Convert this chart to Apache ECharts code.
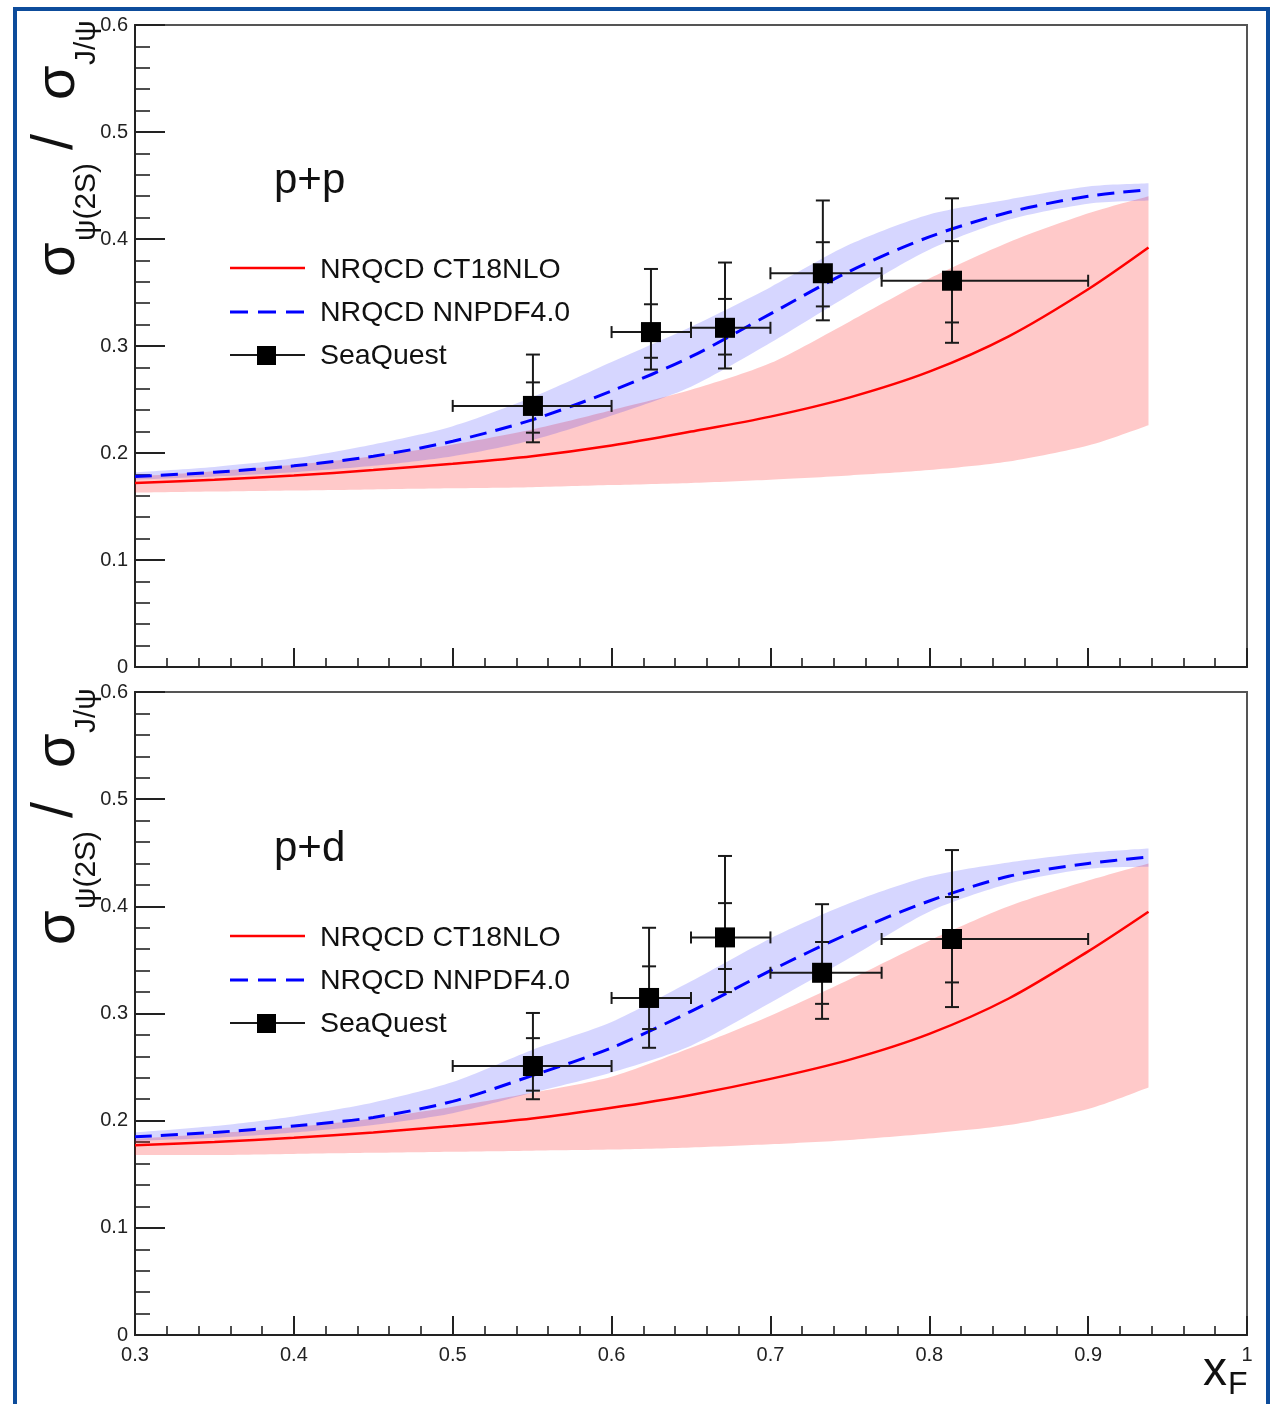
<!DOCTYPE html>
<html><head><meta charset="utf-8">
<script src="https://cdn.jsdelivr.net/npm/echarts/dist/echarts.min.js"></script>
<style>html,body{margin:0;padding:0;background:#fff;}#c{width:1281px;height:1404px;}</style>
</head><body><div id="c"></div>
<script>
// ---------- data ----------
const xGrid = [0.30,0.35,0.40,0.45,0.50,0.55,0.60,0.65,0.70,0.75,0.80,0.85,0.90,0.938];

// p+p panel
const ppCT18   = [0.172,0.175,0.179,0.184,0.190,0.197,0.207,0.220,0.234,0.252,0.276,0.309,0.353,0.392];
const ppCT18Lo = [0.163,0.164,0.165,0.166,0.167,0.168,0.170,0.172,0.175,0.179,0.184,0.192,0.207,0.226];
const ppCT18Hi = [0.178,0.183,0.189,0.197,0.208,0.222,0.240,0.259,0.284,0.323,0.363,0.397,0.424,0.440];
const ppNN     = [0.178,0.182,0.188,0.197,0.211,0.231,0.258,0.290,0.330,0.370,0.402,0.425,0.440,0.446];
const ppNNLo   = [0.175,0.178,0.182,0.188,0.197,0.212,0.235,0.262,0.303,0.348,0.390,0.418,0.433,0.436];
const ppNNHi   = [0.182,0.187,0.195,0.208,0.225,0.252,0.285,0.318,0.355,0.395,0.423,0.437,0.449,0.452];

// p+d panel
const pdCT18   = [0.177,0.180,0.184,0.189,0.195,0.202,0.212,0.224,0.239,0.257,0.281,0.314,0.358,0.395];
const pdCT18Lo = [0.168,0.168,0.169,0.170,0.171,0.172,0.173,0.175,0.178,0.182,0.188,0.196,0.211,0.231];
const pdCT18Hi = [0.183,0.188,0.194,0.202,0.213,0.226,0.241,0.268,0.298,0.332,0.368,0.400,0.424,0.440];
const pdNN     = [0.185,0.189,0.195,0.203,0.218,0.242,0.268,0.302,0.340,0.375,0.405,0.428,0.440,0.446];
const pdNNLo   = [0.181,0.184,0.189,0.196,0.207,0.226,0.245,0.270,0.310,0.352,0.395,0.421,0.435,0.437];
const pdNNHi   = [0.189,0.195,0.204,0.217,0.236,0.266,0.292,0.330,0.370,0.403,0.428,0.441,0.450,0.454];

// SeaQuest data
const sqXLo = [0.50,0.60,0.65,0.70,0.77];
const sqXHi = [0.60,0.65,0.70,0.77,0.90];

const ppX      = [0.5505,0.6248,0.6714,0.7330,0.8143];
const ppY      = [0.244,0.313,0.317,0.368,0.361];
const ppTotLo  = [0.210,0.278,0.279,0.324,0.303];
const ppTotHi  = [0.292,0.372,0.378,0.436,0.438];
const ppStatLo = [0.219,0.289,0.292,0.337,0.322];
const ppStatHi = [0.266,0.339,0.344,0.397,0.398];

const pdX      = [0.5505,0.6236,0.6714,0.7325,0.8143];
const pdY      = [0.251,0.3145,0.371,0.338,0.3695];
const pdTotLo  = [0.220,0.268,0.320,0.295,0.306];
const pdTotHi  = [0.3005,0.380,0.447,0.402,0.4525];
const pdStatLo = [0.228,0.2855,0.3415,0.309,0.329];
const pdStatHi = [0.277,0.344,0.403,0.3667,0.4087];

const xTickLabels = ['0.3','0.4','0.5','0.6','0.7','0.8','0.9','1'];
const yTickLabels = ['0','0.1','0.2','0.3','0.4','0.5','0.6'];
const legendNames = ['NRQCD CT18NLO','NRQCD NNPDF4.0','SeaQuest'];
const panelLabels = ['p+p','p+d'];

// ---------- build ----------
const FONT = 'Liberation Sans, Arial, Helvetica, sans-serif';
const RED_FILL = 'rgba(255,0,0,0.21)';
const BLUE_FILL = 'rgba(0,0,255,0.16)';

function pairs(ys){ return xGrid.map((x,i)=>[x, ys[i]]); }

// smooth path through pixel points (Catmull-Rom -> cubic Bezier)
function smoothSeg(pts, start){
  let d = start ? ('M' + pts[0][0] + ',' + pts[0][1]) : ('L' + pts[0][0] + ',' + pts[0][1]);
  const n = pts.length, t = 0.8;
  for (let i = 0; i < n - 1; i++){
    const p0 = pts[Math.max(i-1,0)], p1 = pts[i], p2 = pts[i+1], p3 = pts[Math.min(i+2,n-1)];
    const c1 = [p1[0] + (p2[0]-p0[0])*t/6, p1[1] + (p2[1]-p0[1])*t/6];
    const c2 = [p2[0] - (p3[0]-p1[0])*t/6, p2[1] - (p3[1]-p1[1])*t/6];
    d += 'C' + c1[0] + ',' + c1[1] + ',' + c2[0] + ',' + c2[1] + ',' + p2[0] + ',' + p2[1];
  }
  return d;
}
function band(g, lo, hi, color){
  return {type:'custom', xAxisIndex:g, yAxisIndex:g, z:1, animation:false, silent:true, clip:true,
    data:[[xGrid[0], lo[0]]],
    renderItem:function(params, api){
      const up = xGrid.map((x,i)=>api.coord([x, hi[i]]));
      const dn = xGrid.map((x,i)=>api.coord([x, lo[i]])).reverse();
      const d = smoothSeg(up, true) + smoothSeg(dn, false) + 'Z';
      return {type:'path', shape:{pathData:d}, style:{fill:color, stroke:'none'}};
    }
  };
}
function curve(g, ys, color, width, type){
  return {type:'line', xAxisIndex:g, yAxisIndex:g, data:pairs(ys), smooth:0.3, symbol:'none',
    lineStyle:{color:color, width:width, type:type}, z:3, animation:false, silent:true};
}
function errBars(g, X, Y, tl, th, sl, sh){
  const data = X.map((x,i)=>[x, Y[i], sqXLo[i], sqXHi[i], tl[i], th[i], sl[i], sh[i]]);
  return {type:'custom', xAxisIndex:g, yAxisIndex:g, z:5, animation:false, silent:true,
    dimensions:['x','y','xl','xh','tl','th','sl','sh'],
    encode:{x:0, y:1},
    data:data,
    renderItem:function(params, api){
      const c = api.coord([api.value(0), api.value(1)]);
      const xl = api.coord([api.value(2), api.value(1)])[0];
      const xh = api.coord([api.value(3), api.value(1)])[0];
      const yTl = api.coord([api.value(0), api.value(4)])[1];
      const yTh = api.coord([api.value(0), api.value(5)])[1];
      const ySl = api.coord([api.value(0), api.value(6)])[1];
      const ySh = api.coord([api.value(0), api.value(7)])[1];
      const st = {stroke:'#1a1a1a', lineWidth:2};
      const L = (x1,y1,x2,y2)=>({type:'line', shape:{x1,y1,x2,y2}, style:st});
      const cw = 7, ch = 6;
      return {type:'group', children:[
        L(c[0], yTl, c[0], yTh),
        L(c[0]-cw, yTl, c[0]+cw, yTl),
        L(c[0]-cw, yTh, c[0]+cw, yTh),
        L(c[0]-cw, ySl, c[0]+cw, ySl),
        L(c[0]-cw, ySh, c[0]+cw, ySh),
        L(xl, c[1], xh, c[1]),
        L(xl, c[1]-ch, xl, c[1]+ch),
        L(xh, c[1]-ch, xh, c[1]+ch),
        {type:'rect', shape:{x:c[0]-10, y:c[1]-10, width:20, height:20}, style:{fill:'#000'}}
      ]};
    }
  };
}

const grids = [
  {left:135, top:25, width:1112, height:642, show:true, borderColor:'#555', borderWidth:2, backgroundColor:'transparent'},
  {left:135, top:692, width:1112, height:643, show:true, borderColor:'#555', borderWidth:2, backgroundColor:'transparent'}
];
function xAxis(g, showLabels){
  return {type:'value', gridIndex:g, min:0.3, max:1.0, interval:0.1,
    axisLine:{show:true, onZero:false, lineStyle:{color:'#222', width:2}},
    axisTick:{show:true, inside:true, length:19, lineStyle:{color:'#222', width:2}},
    minorTick:{show:true, splitNumber:5, length:9, lineStyle:{color:'#222', width:1.6}},
    splitLine:{show:false}, minorSplitLine:{show:false},
    axisLabel:{show:showLabels, fontSize:20, color:'#222', margin:10, fontFamily:FONT,
      formatter:v=>xTickLabels[Math.round((v-0.3)*10)] }
  };
}
function yAxis(g){
  return {type:'value', gridIndex:g, min:0, max:0.6, interval:0.1,
    axisLine:{show:true, onZero:false, lineStyle:{color:'#222', width:2}},
    axisTick:{show:true, inside:true, length:30, lineStyle:{color:'#222', width:2}},
    minorTick:{show:true, splitNumber:5, length:15, lineStyle:{color:'#222', width:1.6}},
    splitLine:{show:false}, minorSplitLine:{show:false},
    axisLabel:{show:true, fontSize:20, color:'#222', margin:7, fontFamily:FONT, padding:[8,0,0,0],
      formatter:v=>yTickLabels[Math.round(v*10)] }
  };
}

const series = [
  band(0, ppCT18Lo, ppCT18Hi, RED_FILL),
  band(0, ppNNLo, ppNNHi, BLUE_FILL),
  curve(0, ppCT18, '#ff0000', 2.5, 'solid'),
  curve(0, ppNN, '#0000ff', 3, [17,9]),
  errBars(0, ppX, ppY, ppTotLo, ppTotHi, ppStatLo, ppStatHi),
  band(1, pdCT18Lo, pdCT18Hi, RED_FILL),
  band(1, pdNNLo, pdNNHi, BLUE_FILL),
  curve(1, pdCT18, '#ff0000', 2.5, 'solid'),
  curve(1, pdNN, '#0000ff', 3, [17,9]),
  errBars(1, pdX, pdY, pdTotLo, pdTotHi, pdStatLo, pdStatHi)
];

// ---------- decorations (text / legend) ----------
function txt(x, y, text, size, opts){
  opts = opts || {};
  return {type:'text', x:x, y:y, rotation:opts.rot||0, silent:true, z:100,
    style:{text:text, fill:'#111', font: size+'px '+FONT,
      textAlign:opts.align||'left', textVerticalAlign:'middle', align:opts.align||'left', verticalAlign:'middle'}};
}
function panelDecor(dy, label){
  const R = Math.PI/2;
  return [
    txt(59, 277+dy, 'σ', 56, {rot:R}),
    txt(87, 241+dy, 'ψ(2S)', 30, {rot:R}),
    txt(56, 150+dy, '/', 58, {rot:R}),
    txt(59, 100+dy, 'σ', 56, {rot:R}),
    txt(87, 65+dy, 'J/ψ', 30, {rot:R}),
    txt(274, 181+dy, label, 42),
    {type:'line', silent:true, z:100, shape:{x1:230, y1:268+dy, x2:305, y2:268+dy}, style:{stroke:'#ff0000', lineWidth:2.5}},
    txt(320, 270+dy, legendNames[0], 28.5),
    {type:'line', silent:true, z:100, shape:{x1:230, y1:312+dy, x2:305, y2:312+dy}, style:{stroke:'#0000ff', lineWidth:3, lineDash:[18,10]}},
    txt(320, 313+dy, legendNames[1], 28.5),
    {type:'line', silent:true, z:100, shape:{x1:230, y1:355+dy, x2:305, y2:355+dy}, style:{stroke:'#1a1a1a', lineWidth:2}},
    {type:'rect', silent:true, z:101, shape:{x:257, y:346+dy, width:19, height:19}, style:{fill:'#000'}},
    txt(320, 356+dy, legendNames[2], 28.5)
  ];
}
const graphic = [].concat(
  [{type:'rect', silent:true, z:0, shape:{x:15, y:9, width:1253, height:1420}, style:{fill:'none', stroke:'#0d4c9b', lineWidth:4}}],
  panelDecor(0, panelLabels[0]),
  panelDecor(668, panelLabels[1]),
  [txt(1203, 1372, 'x', 48), txt(1228, 1385, 'F', 32)]
);

const chart = echarts.init(document.getElementById('c'), null, {renderer:'canvas'});
chart.setOption({
  animation:false,
  backgroundColor:'#fff',
  textStyle:{fontFamily:FONT},
  grid:grids,
  xAxis:[xAxis(0,false), xAxis(1,true)],
  yAxis:[yAxis(0), yAxis(1)],
  series:series,
  graphic:graphic
});
</script></body></html>
